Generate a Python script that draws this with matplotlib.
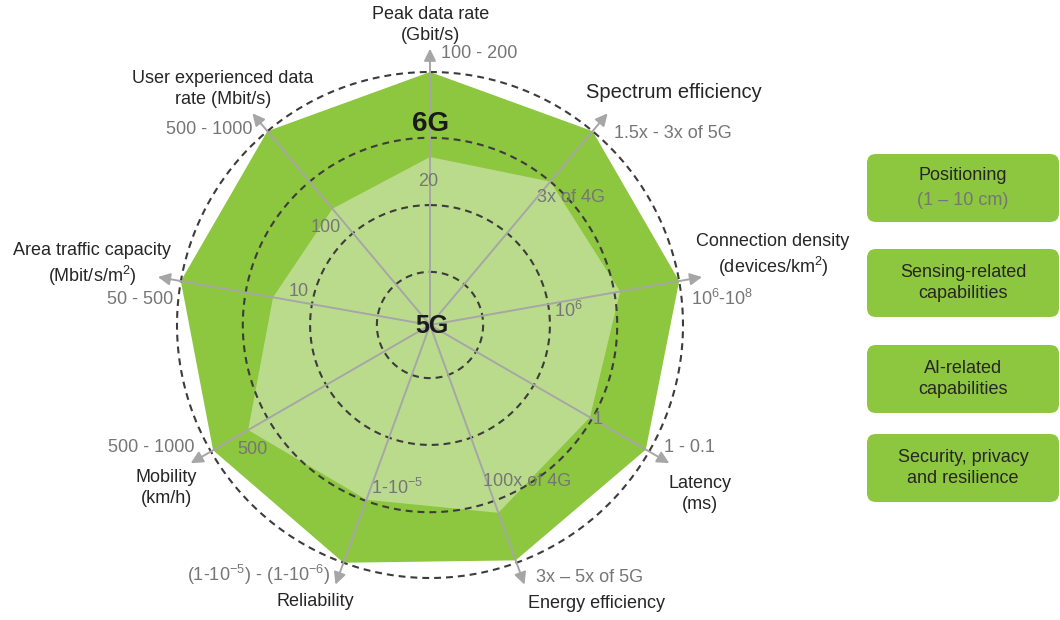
import numpy as np
import matplotlib
matplotlib.use("Agg")
import matplotlib.pyplot as plt
from matplotlib.patches import FancyBboxPatch

plt.rcParams['font.family'] = ['Liberation Sans', 'DejaVu Sans']
plt.rcParams['mathtext.fontset'] = 'custom'
plt.rcParams['mathtext.rm'] = 'Liberation Sans'
plt.rcParams['mathtext.it'] = 'Liberation Sans'
plt.rcParams['mathtext.bf'] = 'Liberation Sans:bold'
plt.rcParams['mathtext.default'] = 'regular'

# ---------------- data ----------------
axis_names = ["Peak data rate\n(Gbit/s)", "Spectrum efficiency",
              "Connection density\n(devices/km$^2$)", "Latency\n(ms)",
              "Energy efficiency", "Reliability", "Mobility\n(km/h)",
              "Area traffic capacity\n(Mbit/s/m$^2$)",
              "User experienced data\nrate (Mbit/s)"]
range_6g = ["100 - 200", "1.5x - 3x of 5G", "10$^6$-10$^8$", "1 - 0.1",
            "3x \u2013 5x of 5G", "(1-10$^{-5}$) - (1-10$^{-6}$)",
            "500 - 1000", "50 - 500", "500 - 1000"]
value_5g = ["20", "3x of 4G", "10$^6$", "1", "100x of 4G", "1-10$^{-5}$",
            "500", "10", "100"]
level_6g = [1.0, 1.0, 1.0, 0.985, 0.99, 1.0, 0.99, 1.0, 1.0]
level_5g = [0.664, 0.74, 0.763, 0.73, 0.79, 0.735, 0.83, 0.63, 0.60]
grid_levels = [0.21, 0.474, 0.74, 1.0]
capabilities = ["Positioning", "Sensing-related\ncapabilities",
                "AI-related\ncapabilities", "Security, privacy\nand resilience"]
capability_notes = ["(1 \u2013 10 cm)", "", "", ""]

# ---------------- style ----------------
DARK = '#8DC63F'
LIGHT = '#BBDB8C'
SPOKE = '#A6A6A6'
RING = '#3C3C3C'
NAME_C = '#262626'
VAL_C = '#767676'

W, H = 1060, 620
fig = plt.figure(figsize=(W / 100, H / 100), dpi=100)

cx, cy, R = 430, 325, 253      # pixel centre and radius of level 1.0
rmax = 1.15
rpx = R * rmax
ax = fig.add_axes([(cx - rpx) / W, 1 - (cy + rpx) / H, 2 * rpx / W, 2 * rpx / H],
                  projection='polar')
ax.set_theta_offset(np.pi / 2)
ax.set_theta_direction(-1)
ax.set_ylim(0, rmax)
ax.axis('off')

n = len(axis_names)
theta = np.arange(n) * 2 * np.pi / n
tc = np.append(theta, theta[0])

ax.fill(tc, level_6g + level_6g[:1], color=DARK, lw=0, zorder=1)
ax.fill(tc, level_5g + level_5g[:1], color=LIGHT, lw=0, zorder=2)

ring_t = np.linspace(0, 2 * np.pi, 721)
for lv in grid_levels:
    ax.plot(ring_t, np.full_like(ring_t, lv), color=RING, lw=1.5,
            dashes=(3.3, 2.4), zorder=3)

for th in theta:
    ax.annotate('', xy=(th, 1.092), xytext=(th, 0),
                arrowprops=dict(arrowstyle='-|>', color=SPOKE, lw=1.4,
                                shrinkA=0, shrinkB=0, mutation_scale=18),
                zorder=4)

# ---------------- overlay for text (pixel coords) ----------------
ov = fig.add_axes([0, 0, 1, 1])
ov.set_xlim(0, W)
ov.set_ylim(H, 0)
ov.axis('off')
ov.set_zorder(5)
ov.patch.set_visible(False)

name_pos = [(431, 25, 'center'), (586, 93, 'left'), (773, 256, 'center'),
            (700, 494, 'center'), (596, 604, 'center'), (315, 602, 'center'),
            (166, 488, 'center'), (92, 265, 'center'), (223, 89, 'center')]
range_pos = [(441, 54, 'left'), (614, 134, 'left'), (691, 299, 'left'),
             (664, 447, 'left'), (536, 577, 'left'), (330, 575, 'right'),
             (194, 447, 'right'), (173, 300, 'right'), (252, 130, 'right')]
val_pos = [(428, 181), (571, 197), (568, 311), (598, 420), (527, 482),
           (397, 488), (252, 450), (299, 291), (326, 227)]

for i in range(n):
    x, y, ha = name_pos[i]
    fs = 14.5 if i == 1 else 13
    ov.text(x, y, axis_names[i], ha=ha, va='center', fontsize=fs,
            color=NAME_C, linespacing=1.25)
    x, y, ha = range_pos[i]
    ov.text(x, y, range_6g[i], ha=ha, va='center', fontsize=13, color=VAL_C)
    x, y = val_pos[i]
    ov.text(x, y, value_5g[i], ha='center', va='center', fontsize=13, color=VAL_C)

ov.text(431, 124, '6G', ha='center', va='center', fontsize=20,
        fontweight='bold', color='#1a1a1a')
ov.text(432, 326, '5G', ha='center', va='center', fontsize=18,
        fontweight='bold', color='#1a1a1a')

# capability boxes
box_tops = [154, 249, 345, 434]
for top, cap, note in zip(box_tops, capabilities, capability_notes):
    ov.add_patch(FancyBboxPatch((867, top), 192, 68,
                                boxstyle='round,pad=0,rounding_size=9',
                                fc=DARK, ec='none'))
    mid = top + 34
    if note:
        ov.text(963, mid - 12.5, cap, ha='center', va='center', fontsize=13,
                color=NAME_C)
        ov.text(963, mid + 12.5, note, ha='center', va='center', fontsize=13,
                color=VAL_C)
    else:
        ov.text(963, mid, cap, ha='center', va='center', fontsize=13,
                color=NAME_C, linespacing=1.25)

fig.savefig('out.png', dpi=100)
